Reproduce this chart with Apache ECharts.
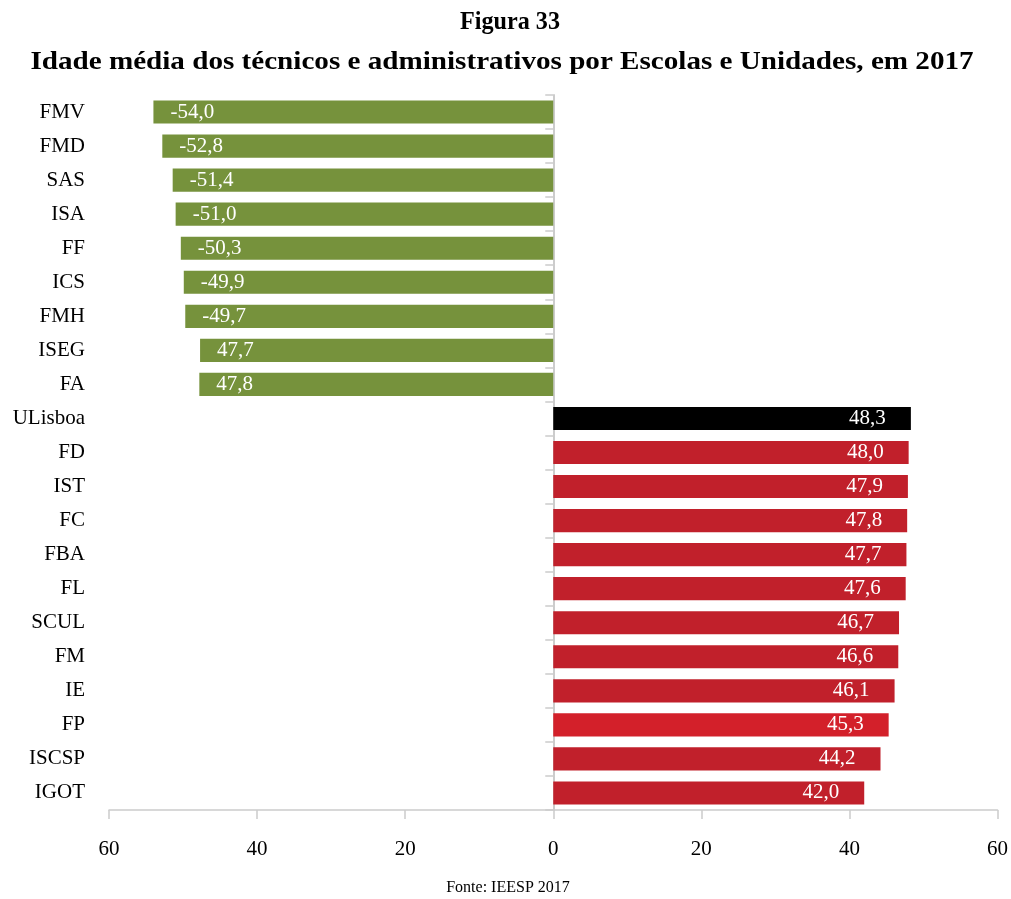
<!DOCTYPE html>
<html>
<head>
<meta charset="utf-8">
<script src="https://cdn.jsdelivr.net/npm/echarts@6/dist/echarts.min.js"></script>
<style>
  html, body { margin: 0; padding: 0; background: #ffffff; }
  #chart { width: 1011px; height: 899px; }
</style>
</head>
<body>
<div id="chart"></div>
<script>
// Schools and units, top to bottom
const categories = ['FMV', 'FMD', 'SAS', 'ISA', 'FF', 'ICS', 'FMH', 'ISEG', 'FA',
  'ULisboa', 'FD', 'IST', 'FC', 'FBA', 'FL', 'SCUL', 'FM', 'IE', 'FP', 'ISCSP', 'IGOT'];

// Mean age; units drawn to the left carry a negative sign
const meanAge = [-54.0, -52.8, -51.4, -51.0, -50.3, -49.9, -49.7, -47.7, -47.8,
  48.3, 48.0, 47.9, 47.8, 47.7, 47.6, 46.7, 46.6, 46.1, 45.3, 44.2, 42.0];

// Units whose label is printed without the minus sign
const unsignedLabels = ['ISEG', 'FA'];

// Bottom axis tick values
const xTicks = [-60, -40, -20, 0, 20, 40, 60];

const GREEN = '#76923c';
const RED = '#c1202b';
const RED_BRIGHT = '#d3202a';
const BLACK = '#000000';

function barColor(name, v) {
  if (name === 'ULisboa') return BLACK;
  if (name === 'FP') return RED_BRIGHT;
  return v < 0 ? GREEN : RED;
}

function fmt(v) {
  return v.toFixed(1).replace('.', ',');
}

const FONT = '"Liberation Serif", "Times New Roman", serif';
const AXIS_GRAY = '#cccccc';

const barData = categories.map((name, i) => {
  const v = meanAge[i];
  return {
    value: v,
    itemStyle: { color: barColor(name, v) },
    label: v < 0
      ? { position: 'insideLeft', distance: 17 }
      : { position: 'insideRight', distance: 25 }
  };
});

const chart = echarts.init(document.getElementById('chart'), null, { renderer: 'canvas' });

chart.setOption({
  animation: false,
  backgroundColor: '#ffffff',
  graphic: [
    {
      type: 'text',
      x: 510,
      y: 22,
      scaleX: 0.93,
      style: {
        text: 'Figura 33',
        font: 'bold 26px ' + FONT,
        fill: '#000',
        textAlign: 'center',
        textVerticalAlign: 'middle'
      }
    },
    {
      type: 'text',
      x: 502,
      y: 62,
      scaleX: 1.12,
      style: {
        text: 'Idade média dos técnicos e administrativos por Escolas e Unidades, em 2017',
        font: 'bold 26px ' + FONT,
        fill: '#000',
        textAlign: 'center',
        textVerticalAlign: 'middle'
      }
    },
    {
      type: 'text',
      x: 508,
      y: 888,
      style: {
        text: 'Fonte: IEESP 2017',
        font: '16px ' + FONT,
        fill: '#000',
        textAlign: 'center',
        textVerticalAlign: 'middle'
      }
    }
  ],
  grid: { left: 109, right: 11, top: 95, bottom: 89, containLabel: false },
  xAxis: {
    type: 'value',
    min: xTicks[0],
    max: xTicks[xTicks.length - 1],
    interval: xTicks[1] - xTicks[0],
    splitLine: { show: false },
    axisLine: { show: true, onZero: false, lineStyle: { color: AXIS_GRAY, width: 1.5 } },
    axisTick: { show: true, length: 9, lineStyle: { color: AXIS_GRAY, width: 1.5 } },
    axisLabel: {
      margin: 29,
      fontFamily: FONT,
      fontSize: 21,
      color: '#000',
      formatter: v => String(Math.abs(v))
    }
  },
  yAxis: [
    {
      type: 'category',
      data: categories,
      inverse: true,
      axisLine: { show: false, onZero: false },
      axisTick: { show: false },
      axisLabel: { margin: 24, fontFamily: FONT, fontSize: 21, color: '#000' }
    },
    {
      type: 'category',
      data: categories,
      inverse: true,
      position: 'left',
      axisLine: { show: true, onZero: true, lineStyle: { color: AXIS_GRAY, width: 2 } },
      axisTick: { show: true, length: 8, lineStyle: { color: AXIS_GRAY, width: 1.5 } },
      axisLabel: { show: false }
    }
  ],
  series: [
    {
      type: 'bar',
      yAxisIndex: 0,
      data: barData,
      barCategoryGap: '32%',
      label: {
        show: true,
        color: '#ffffff',
        fontFamily: FONT,
        fontSize: 21,
        formatter: p => {
          const v = p.value;
          return unsignedLabels.includes(p.name) ? fmt(Math.abs(v)) : fmt(v);
        }
      }
    }
  ]
});
</script>
</body>
</html>
